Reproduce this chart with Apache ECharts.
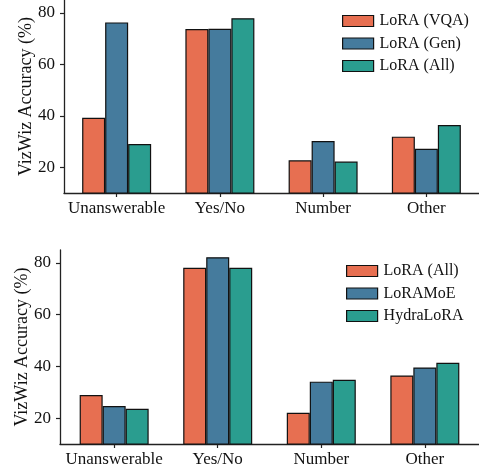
<!DOCTYPE html>
<html>
<head>
<meta charset="utf-8">
<script src="https://cdn.jsdelivr.net/npm/echarts@6/dist/echarts.min.js"></script>
<style>html,body{margin:0;padding:0;background:#fff;}#c{width:479px;height:473px;}</style>
</head>
<body>
<div id="c"></div>
<script>
const categories = ['Unanswerable', 'Yes/No', 'Number', 'Other'];
const yTicks = [20, 40, 60, 80];
// top panel
const topNames = ['LoRA (VQA)', 'LoRA (Gen)', 'LoRA (All)'];
const loraVQA = [39.2, 73.7, 22.7, 31.9];
const loraGen = [76.3, 73.8, 30.2, 27.2];
const loraAllTop = [29.0, 77.9, 22.2, 36.4];
// bottom panel
const bottomNames = ['LoRA (All)', 'LoRAMoE', 'HydraLoRA'];
const loraAllBottom = [28.9, 78.1, 22.1, 36.5];
const loraMoE = [24.7, 82.2, 34.1, 39.6];
const hydraLoRA = [23.6, 78.1, 34.8, 41.4];

const colors = ['#E76F51', '#457B9D', '#2A9D8F'];
const FONT = 'Liberation Serif, Times New Roman, serif';
const AXC = '#222';

function xAxisOf(gi, min, max) {
  return {
    type: 'value', gridIndex: gi, min: min, max: max,
    axisLine: {show: true, onZero: false, lineStyle: {color: AXC, width: 1.3}},
    axisTick: {show: true, customValues: [0,1,2,3], length: 4, lineStyle: {color: AXC, width: 1.2}},
    axisLabel: {show: true, customValues: [0,1,2,3], margin: 7, color: '#111', fontFamily: FONT, fontSize: 17,
      formatter: v => categories[Math.round(v)]},
    splitLine: {show: false}
  };
}
function yAxisOf(gi) {
  return {
    type: 'value', gridIndex: gi, min: 10, max: 85,
    name: 'VizWiz Accuracy (%)', nameLocation: 'middle', nameGap: 29, nameMoveOverlap: false,
    nameTextStyle: {fontFamily: FONT, fontSize: 18, color: '#111'},
    axisLine: {show: true, onZero: false, lineStyle: {color: AXC, width: 1.3}},
    axisTick: {show: true, customValues: yTicks, length: 4, lineStyle: {color: AXC, width: 1.2}},
    axisLabel: {show: true, customValues: yTicks, margin: 9, color: '#111', fontFamily: FONT, fontSize: 17},
    splitLine: {show: false}
  };
}
function barSeries(name, vals, ci, gi) {
  return {
    type: 'bar', name: name, xAxisIndex: gi, yAxisIndex: gi,
    data: vals.map((v, i) => [i, v]),
    barWidth: 23, barGap: '0%',
    itemStyle: {color: colors[ci], borderColor: '#111', borderWidth: 1.2},
    emphasis: {disabled: true}
  };
}
function legendOf(names, left, top) {
  return {
    data: names.map((n, i) => ({name: n, itemStyle: {color: colors[i], borderColor: '#111', borderWidth: 1.2}})),
    left: left, top: top, orient: 'vertical',
    itemWidth: 31, itemHeight: 11, itemGap: 6.5, icon: 'rect',
    textStyle: {fontFamily: FONT, fontSize: 16, color: '#111', padding: [0, 0, 0, 1]},
    selectedMode: false
  };
}
const chart = echarts.init(document.getElementById('c'));
chart.setOption({
  animation: false,
  grid: [
    {left: 64, top: 0, width: 418, height: 193},
    {left: 60, top: 250, width: 420, height: 194}
  ],
  xAxis: [xAxisOf(0, -0.51, 3.51), xAxisOf(1, -0.523, 3.523)],
  yAxis: [yAxisOf(0), yAxisOf(1)],
  legend: [legendOf(topNames, 337, 8), legendOf(bottomNames, 341, 258)],
  series: [
    barSeries(topNames[0], loraVQA, 0, 0),
    barSeries(topNames[1], loraGen, 1, 0),
    barSeries(topNames[2], loraAllTop, 2, 0),
    barSeries(bottomNames[0], loraAllBottom, 0, 1),
    barSeries(bottomNames[1], loraMoE, 1, 1),
    barSeries(bottomNames[2], hydraLoRA, 2, 1)
  ]
});
</script>
</body>
</html>
